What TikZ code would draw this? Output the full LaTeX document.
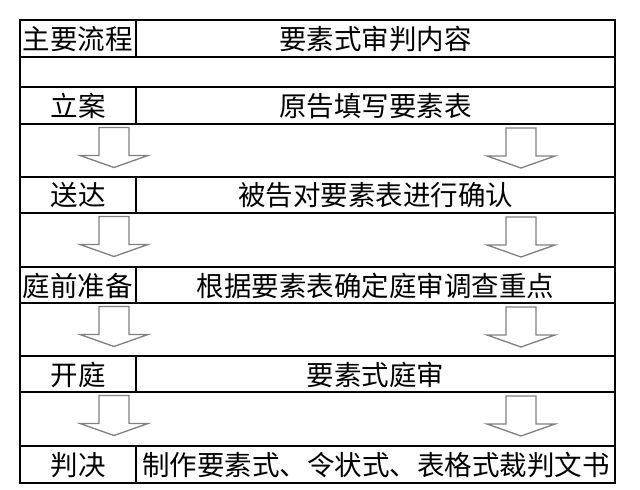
\documentclass[tikz,border=0pt]{standalone}
\usepackage{fontspec}
\setmainfont{Noto Sans CJK SC}
\definecolor{arrowgray}{RGB}{128,128,128}
\begin{document}
\begin{tikzpicture}[x=1pt,y=-1pt,
  grid/.style={line width=1.8pt, draw=black},
  lbl/.style={font=\fontsize{27.5}{30}\selectfont, anchor=center, inner sep=0pt},
  flow/.style={draw=arrowgray, fill=white, line width=1.3pt, line join=miter},
  downarrow/.pic={\draw[flow] (-15,0) -- (15,0) -- (15,28) -- (34,28) -- (0,40) -- (-34,28) -- (-15,28) -- cycle;}]
\useasboundingbox (0,0) rectangle (640,490);
% table frame
\draw[grid] (20,20) rectangle (615,483);
\foreach \y in {57,87,124,177,213,267,303,356,392,446}
  \draw[grid] (20,\y) -- (615,\y);
\foreach \a/\b in {20/57,87/124,177/213,267/303,356/392,446/483}
  \draw[grid] (136,\a) -- (136,\b);
% texts
\node[lbl] (h1) at (78,39) {主要流程};
\node[lbl] (h2) at (375.5,39) {要素式审判内容};
\node[lbl] (s1) at (78,106) {立案};
\node[lbl] (c1) at (375.5,106) {原告填写要素表};
\node[lbl] (s2) at (78,195.5) {送达};
\node[lbl] (c2) at (375.5,195.5) {被告对要素表进行确认};
\node[lbl] (s3) at (78,285.5) {庭前准备};
\node[lbl] (c3) at (375.5,285.5) {根据要素表确定庭审调查重点};
\node[lbl] (s4) at (78,374.5) {开庭};
\node[lbl] (c4) at (375.5,374.5) {要素式庭审};
\node[lbl] (s5) at (78,465) {判决};
\node[lbl] (c5) at (376,465) {制作要素式、令状式、表格式裁判文书};
% arrows
\foreach \t in {124,213,303,392} {
  \pic at (114,\t+3.5) {downarrow};
  \pic at (521,\t+4) {downarrow};
}
\end{tikzpicture}
\end{document}
